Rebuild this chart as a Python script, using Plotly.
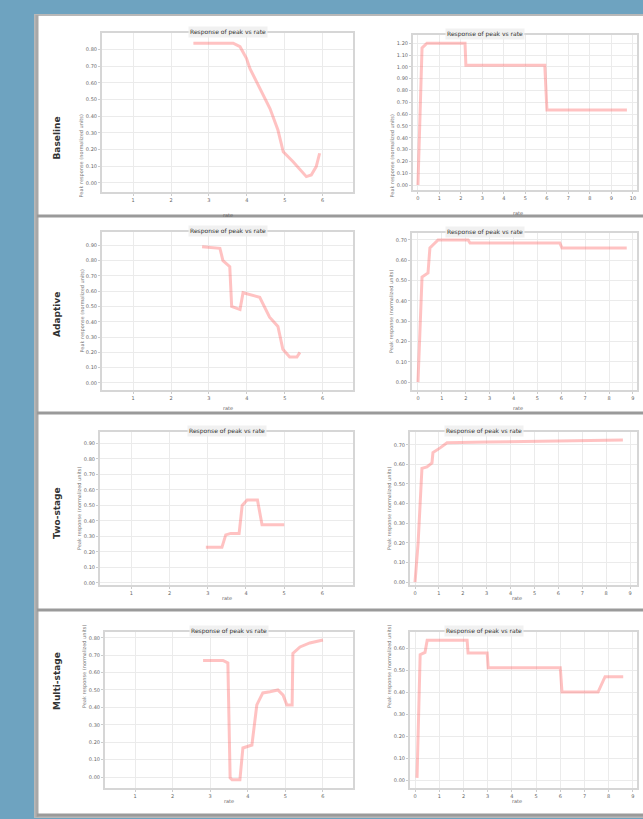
import plotly.graph_objects as go

W, H = 643, 819

row_labels = ["Baseline", "Adaptive", "Two-stage", "Multi-stage"]
panel_title = "Response of peak vs rate"
y_title = "Peak response (normalized units)"
x_title = "rate"

# left column series (rate vs response)
l1_x = [2.59, 3.64, 3.82, 3.99, 4.08, 4.34, 4.61, 4.82, 4.96, 5.22, 5.57, 5.70, 5.83, 5.92]
l1_y = [0.837, 0.837, 0.816, 0.746, 0.686, 0.566, 0.446, 0.317, 0.187, 0.127, 0.038, 0.048, 0.098, 0.178]
l2_x = [2.82, 3.29, 3.37, 3.55, 3.60, 3.82, 3.90, 4.16, 4.34, 4.60, 4.82, 4.95, 5.13, 5.32, 5.40]
l2_y = [0.89, 0.88, 0.80, 0.76, 0.50, 0.48, 0.59, 0.575, 0.56, 0.43, 0.37, 0.22, 0.17, 0.17, 0.20]
l3_x = [2.95, 3.37, 3.47, 3.60, 3.82, 3.90, 4.03, 4.30, 4.42, 5.00]
l3_y = [0.23, 0.23, 0.31, 0.32, 0.32, 0.50, 0.535, 0.535, 0.375, 0.375]
l4_x = [2.81, 3.34, 3.47, 3.53, 3.58, 3.79, 3.87, 4.11, 4.24, 4.40, 4.59, 4.80, 4.94, 5.04, 5.18, 5.20, 5.39, 5.65, 6.00]
l4_y = [0.67, 0.67, 0.655, -0.005, -0.015, -0.015, 0.167, 0.184, 0.414, 0.483, 0.49, 0.50, 0.47, 0.414, 0.414, 0.71, 0.747, 0.77, 0.787]

# right column series (step responses)
r1_x = [0, 0.19, 0.42, 2.19, 2.23, 5.90, 6.00, 9.72]
r1_y = [0, 1.16, 1.20, 1.20, 1.015, 1.015, 0.635, 0.635]
r2_x = [0, 0.17, 0.42, 0.50, 0.71, 0.84, 2.10, 2.18, 5.94, 6.03, 8.74]
r2_y = [0, 0.517, 0.537, 0.66, 0.685, 0.70, 0.70, 0.685, 0.685, 0.66, 0.66]
r3_x = [0, 0.13, 0.29, 0.50, 0.71, 0.75, 1.05, 1.34, 3.00, 8.70]
r3_y = [0, 0.20, 0.58, 0.587, 0.607, 0.66, 0.684, 0.71, 0.714, 0.724]
r4_x = [0.08, 0.21, 0.41, 0.50, 2.15, 2.19, 2.98, 3.02, 6.00, 6.07, 7.56, 7.85, 8.60]
r4_y = [0.01, 0.57, 0.58, 0.636, 0.636, 0.577, 0.577, 0.51, 0.51, 0.40, 0.40, 0.47, 0.47]

left_x_ticks = [1, 2, 3, 4, 5, 6]
right1_x_ticks = list(range(0, 11))
right_x_ticks = list(range(0, 10))

series = [
    (l1_x, l1_y), (r1_x, r1_y),
    (l2_x, l2_y), (r2_x, r2_y),
    (l3_x, l3_y), (r3_x, r3_y),
    (l4_x, l4_y), (r4_x, r4_y),
]

# pixel boxes: (x0, x1, y0, y1) for each subplot
boxes = [
    (102, 353, 33, 192), (413, 637, 35, 190),
    (102, 353, 232, 390), (412, 637, 233, 390),
    (100, 353, 432, 585), (410, 637, 432, 585),
    (105, 353, 632, 788), (410, 637, 632, 788),
]
x_ranges = [
    [0.18, 6.8], [-0.23, 10.19],
    [0.18, 6.8], [-0.25, 9.17],
    [0.18, 6.8], [-0.21, 9.29],
    [0.20, 6.8], [-0.21, 9.17],
]
y_ranges = [
    [-0.054, 0.898], [-0.042, 1.27],
    [-0.046, 0.987], [-0.039, 0.734],
    [-0.013, 0.974], [-0.015, 0.765],
    [-0.063, 0.833], [-0.036, 0.673],
]
x_ticks = [left_x_ticks, right1_x_ticks, left_x_ticks, right_x_ticks,
           left_x_ticks, right_x_ticks, left_x_ticks, right_x_ticks]

def px(x):
    return x / W

def py(y):
    return 1 - y / H

fig = go.Figure()
layout = dict()
annotations = []
shapes = []

# panel background, border and separators
shapes.append(dict(type="rect", xref="paper", yref="paper", x0=px(35), x1=px(645), y0=py(817), y1=py(15),
                   fillcolor="white", line=dict(color="#b8b8b8", width=2), layer="below"))
shapes.append(dict(type="line", xref="paper", yref="paper", x0=px(37), x1=px(37), y0=py(817), y1=py(15),
                   line=dict(color="#a8a8a8", width=3), layer="below"))
for sy in [216, 413, 610, 815]:
    shapes.append(dict(type="line", xref="paper", yref="paper", x0=px(37), x1=px(645), y0=py(sy), y1=py(sy),
                       line=dict(color="#9a9a9a", width=3), layer="below"))

row_centers = [115, 315, 513, 712]
for lab, cy in zip(row_labels, row_centers):
    annotations.append(dict(text="<b>" + lab + "</b>", x=px(57), y=py(cy), xref="paper", yref="paper",
                            textangle=-90, showarrow=False, xanchor="center",
                            font=dict(size=9, color="#333", family="DejaVu Sans")))

for i, ((xs, ys), box, xr, yr, xt) in enumerate(zip(series, boxes, x_ranges, y_ranges, x_ticks)):
    n = i + 1
    xa = "xaxis" if n == 1 else f"xaxis{n}"
    ya = "yaxis" if n == 1 else f"yaxis{n}"
    xref = "x" if n == 1 else f"x{n}"
    yref = "y" if n == 1 else f"y{n}"
    x0, x1, y0, y1 = box
    fig.add_trace(go.Scatter(x=xs, y=ys, mode="lines", xaxis=xref, yaxis=yref,
                             line=dict(color="rgba(255,110,110,0.42)", width=3), showlegend=False))
    axis_common = dict(showgrid=True, gridcolor="#ebebeb", gridwidth=1, showline=True, mirror=True,
                       linecolor="#d6d6d6", linewidth=2, ticks="outside", ticklen=2, tickcolor="#ccc",
                       tickfont=dict(size=5, color="#666"), zeroline=False)
    layout[xa] = dict(domain=[px(x0), px(x1)], range=xr, tickvals=xt, anchor=yref, **axis_common)
    layout[ya] = dict(domain=[py(y1), py(y0)], range=yr, dtick=0.1, tickformat=".2f", anchor=xref, **axis_common)
    cx = (x0 + x1) / 2
    annotations.append(dict(text=panel_title, x=px(cx), y=py(y0 - 1), xref="paper", yref="paper",
                            showarrow=False, yanchor="middle", bgcolor="rgba(240,240,240,0.9)",
                            font=dict(size=6, color="#333")))
    annotations.append(dict(text=x_title, x=px(cx), y=py(y1 + 18), xref="paper", yref="paper",
                            showarrow=False, font=dict(size=5, color="#666")))
    annotations.append(dict(text=y_title, x=px(x0 - 15), y=py((y0 + y1) / 2), xref="paper", yref="paper",
                            textangle=-90, showarrow=False, xanchor="right",
                            font=dict(size=5, color="#777")))

fig.update_layout(**layout)
fig.update_layout(width=W, height=H, margin=dict(l=0, r=0, t=0, b=0),
                  paper_bgcolor="#6ea3c0", plot_bgcolor="white",
                  annotations=annotations, shapes=shapes, font=dict(family="DejaVu Sans"))

fig.write_html("out.html", config={"displayModeBar": False},
               post_script="document.body.style.margin='0';document.body.style.overflow='hidden';")
